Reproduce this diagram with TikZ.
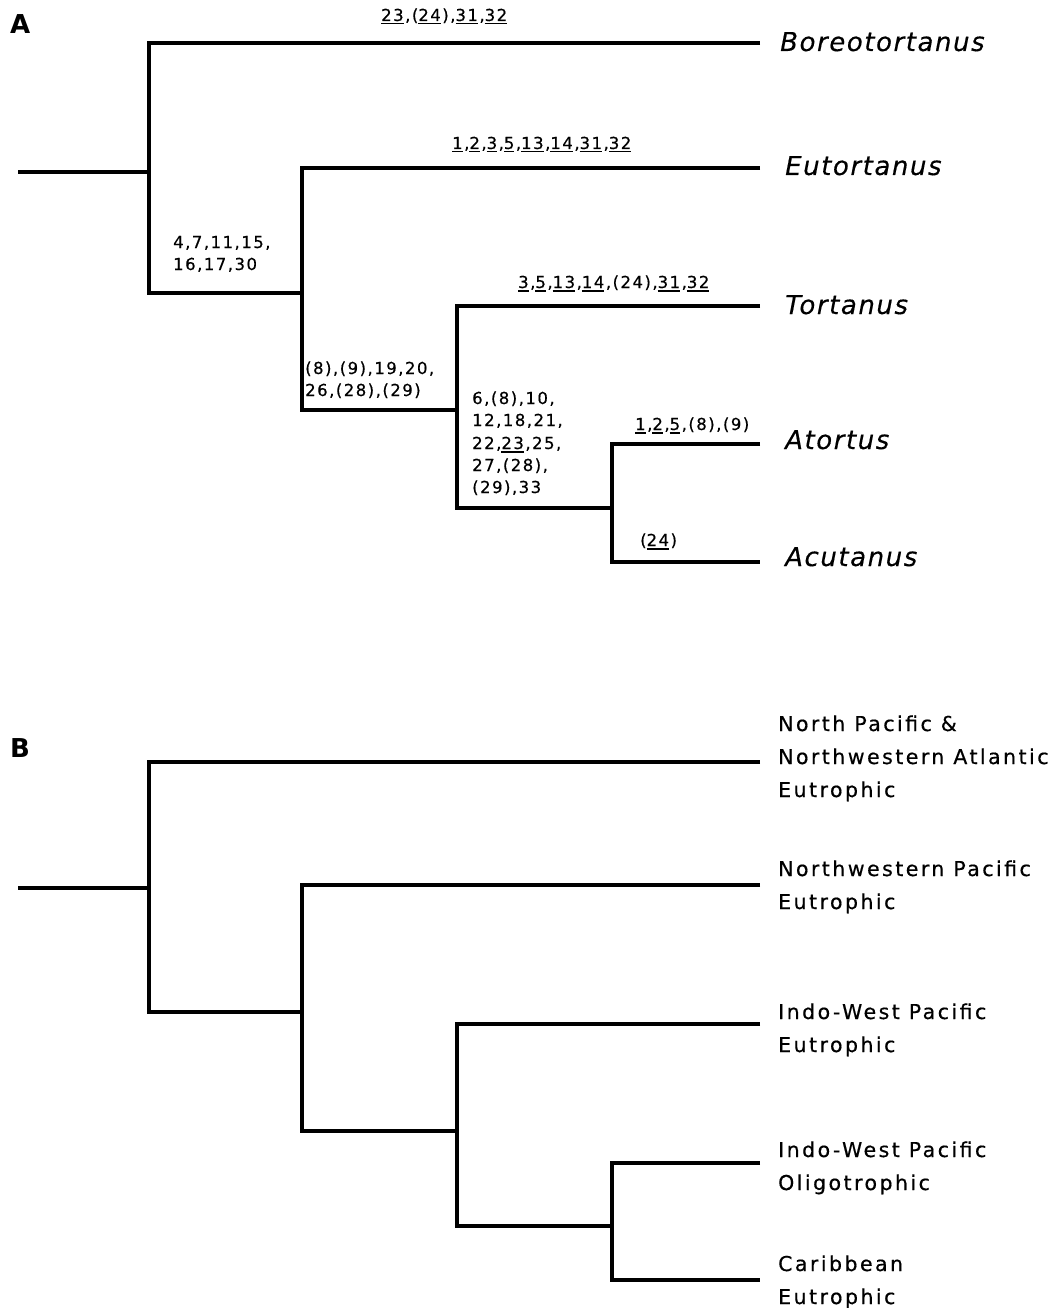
\documentclass[tikz,border=0pt]{standalone}
\usepackage{fontspec}
\setmainfont{DejaVu Sans}
\newfontfamily\numf[LetterSpace=9,FakeBold=0.5]{DejaVu Sans}
\newfontfamily\taxf[LetterSpace=6,FakeBold=0.3]{DejaVu Sans}
\newfontfamily\areaf[LetterSpace=12,FakeBold=0.5]{DejaVu Sans}
\newcommand\myul[1]{\setbox0\hbox{#1}\rlap{\rule[-3.5pt]{\wd0}{1.6pt}}\box0\kern1.5pt}
\begin{document}
\begin{tikzpicture}[x=1pt,y=-1pt,
  branch/.style={line width=4pt, line join=miter},
  chars/.style={anchor=base west, inner sep=0pt, font=\numf\fontsize{16.5}{19}\selectfont},
  taxon/.style={anchor=base west, inner sep=0pt, font=\taxf\itshape\fontsize{26}{30}\selectfont},
  area/.style={anchor=base west, inner sep=0pt, font=\areaf\fontsize{20.5}{24}\selectfont},
  panel/.style={anchor=base west, inner sep=0pt, font=\bfseries\fontsize{26}{30}\selectfont}]
\useasboundingbox[fill=white] (0,0) rectangle (1062,1308);

% ---------------- Panel A ----------------
\node[panel] (pA) at (10,34) {A};
\coordinate (A0) at (18,172);
\coordinate (A1) at (149,172);
\coordinate (A2) at (302,293);
\coordinate (A3) at (457,410);
\coordinate (A4) at (612,508);
\coordinate (tBoreo) at (760,43);
\coordinate (tEut) at (760,168);
\coordinate (tTor) at (760,306);
\coordinate (tAtor) at (760,444);
\coordinate (tAcu) at (760,562);

\draw[branch] (A0) -- (A1);
\draw[branch] (tBoreo) -| (A1) |- (A2);
\draw[branch] (tEut) -| (A2) |- (A3);
\draw[branch] (tTor) -| (A3) |- (A4);
\draw[branch] (tAtor) -| (A4) |- (tAcu);

\node[taxon] (nBoreo) at (780,51) {Boreotortanus};
\node[taxon] (nEut) at (785,175) {Eutortanus};
\node[taxon] (nTor) at (785,314) {Tortanus};
\node[taxon] (nAtor) at (785,449) {Atortus};
\node[taxon] (nAcu) at (785,566) {Acutanus};

\node[chars] (cBoreo) at (381,21) {\myul{23},(\myul{24}),\myul{31},\myul{32}};
\node[chars] (cEut) at (452,149) {\myul{1},\myul{2},\myul{3},\myul{5},\myul{13},\myul{14},\myul{31},\myul{32}};
\node[chars] (cA1a) at (173,248) {4,7,11,15,};
\node[chars] (cA1b) at (173,270) {16,17,30};
\node[chars] (cA2a) at (305,374) {(8),(9),19,20,};
\node[chars] (cA2b) at (305,396) {26,(28),(29)};
\node[chars] (cTor) at (518,288) {\myul{3},\myul{5},\myul{13},\myul{14},(24),\myul{31},\myul{32}};
\node[chars] (cA3a) at (472,404) {6,(8),10,};
\node[chars] (cA3b) at (472,426) {12,18,21,};
\node[chars] (cA3c) at (472,449) {22,\myul{23},25,};
\node[chars] (cA3d) at (472,471) {27,(28),};
\node[chars] (cA3e) at (472,493) {(29),33};
\node[chars] (cAtor) at (635,430) {\myul{1},\myul{2},\myul{5},(8),(9)};
\node[chars] (cAcu) at (640,546) {(\myul{24})};

% ---------------- Panel B ----------------
\node[panel] (pB) at (10,757) {B};
\coordinate (B0) at (18,888);
\coordinate (B1) at (149,888);
\coordinate (B2) at (302,1012);
\coordinate (B3) at (457,1131);
\coordinate (B4) at (612,1226);
\coordinate (tNP) at (760,762);
\coordinate (tNWP) at (760,885);
\coordinate (tIWPE) at (760,1024);
\coordinate (tIWPO) at (760,1163);
\coordinate (tCar) at (760,1280);

\draw[branch] (B0) -- (B1);
\draw[branch] (tNP) -| (B1) |- (B2);
\draw[branch] (tNWP) -| (B2) |- (B3);
\draw[branch] (tIWPE) -| (B3) |- (B4);
\draw[branch] (tIWPO) -| (B4) |- (tCar);

\node[area] (aNPa) at (778,731) {North Pacific \&};
\node[area] (aNPb) at (778,764) {Northwestern Atlantic};
\node[area] (aNPc) at (778,797) {Eutrophic};
\node[area] (aNWPa) at (778,876) {Northwestern Pacific};
\node[area] (aNWPb) at (778,909) {Eutrophic};
\node[area] (aIWPEa) at (778,1019) {Indo-West Pacific};
\node[area] (aIWPEb) at (778,1052) {Eutrophic};
\node[area] (aIWPOa) at (778,1157) {Indo-West Pacific};
\node[area] (aIWPOb) at (778,1190) {Oligotrophic};
\node[area] (aCara) at (778,1271) {Caribbean};
\node[area] (aCarb) at (778,1304) {Eutrophic};
\end{tikzpicture}
\end{document}
